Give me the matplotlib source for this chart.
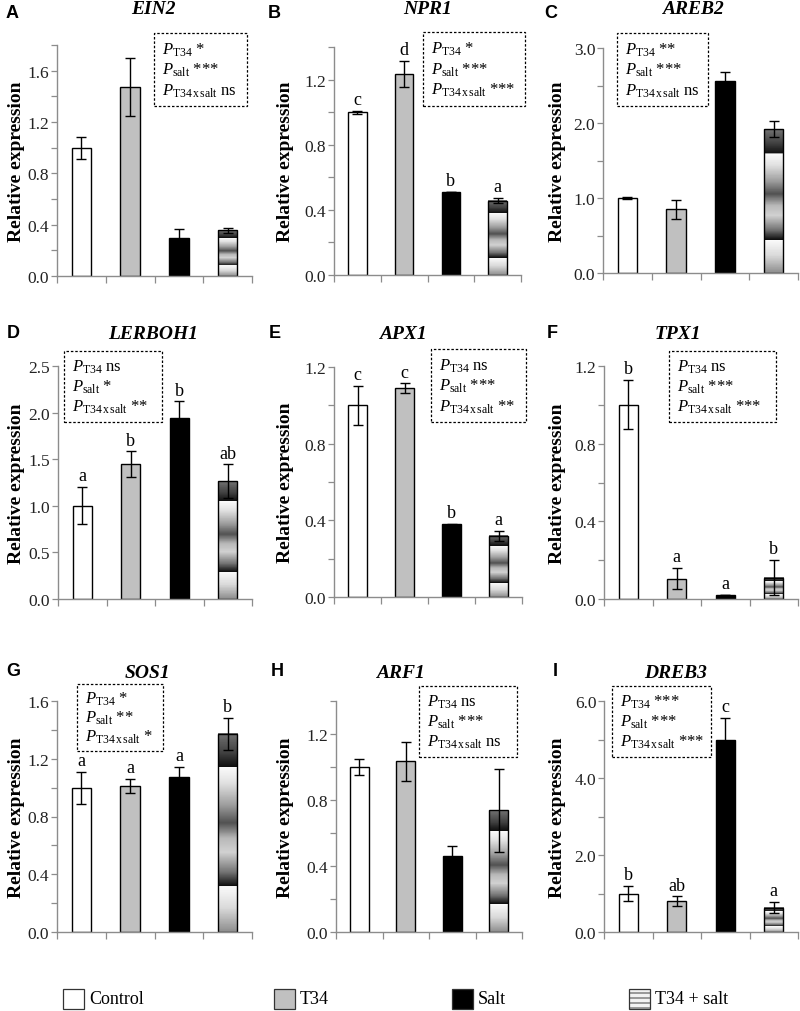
"""Relative expression of nine genes under T34 / salt treatments (3x3 bar panels)."""
import matplotlib
matplotlib.use('Agg')
import matplotlib.pyplot as plt
import numpy as np
from matplotlib.patches import Rectangle
from matplotlib.ticker import MultipleLocator, FormatStrFormatter

plt.rcParams['font.family'] = ['Liberation Serif', 'DejaVu Serif']
plt.rcParams['mathtext.fontset'] = 'custom'
plt.rcParams['mathtext.rm'] = 'Liberation Serif'
plt.rcParams['mathtext.it'] = 'Liberation Serif:italic'
plt.rcParams['mathtext.bf'] = 'Liberation Serif:bold'

W, H = 800, 1012

# ---- data -------------------------------------------------------------
GENES = ['EIN2', 'NPR1', 'AREB2', 'LERBOH1', 'APX1', 'TPX1', 'SOS1', 'ARF1', 'DREB3']
PANELS = ['A', 'B', 'C', 'D', 'E', 'F', 'G', 'H', 'I']
GROUPS = ['Control', 'T34', 'Salt', 'T34 + salt']

CONTROL = [1.00, 1.00, 1.00, 1.00, 1.00, 1.00, 1.00, 1.00, 1.00]
T34 = [1.47, 1.235, 0.85, 1.445, 1.088, 0.105, 1.01, 1.035, 0.80]
SALT = [0.30, 0.51, 2.555, 1.94, 0.379, 0.022, 1.073, 0.463, 5.00]
T34_SALT = [0.355, 0.457, 1.92, 1.265, 0.32, 0.11, 1.373, 0.737, 0.63]

CONTROL_ERR = [0.085, 0.01, 0.01, 0.20, 0.10, 0.127, 0.11, 0.05, 0.19]
T34_ERR = [0.225, 0.08, 0.125, 0.14, 0.026, 0.055, 0.05, 0.117, 0.125]
SALT_ERR = [0.065, 0.0, 0.125, 0.18, 0.004, 0.0, 0.07, 0.057, 0.56]
T34_SALT_ERR = [0.02, 0.017, 0.105, 0.18, 0.026, 0.09, 0.11, 0.252, 0.147]

LETTERS = [
    [],
    ['c', 'd', 'b', 'a'],
    [],
    ['a', 'b', 'b', 'ab'],
    ['c', 'c', 'b', 'a'],
    ['b', 'a', 'a', 'b'],
    ['a', 'a', 'a', 'b'],
    [],
    ['b', 'ab', 'c', 'a'],
]

P_T34 = ['*', '*', '**', 'ns', 'ns', 'ns', '*', 'ns', '***']
P_SALT = ['***', '***', '***', '*', '***', '***', '**', '***', '***']
P_INTER = ['ns', '***', 'ns', '**', '**', '***', '*', 'ns', '***']

# ---- layout (pixels: left, top, right, bottom) -------------------------
AX_PX = [(57, 46, 252, 277), (334, 48, 521, 276), (603, 49, 798, 274),
         (58, 367, 252, 600), (334, 368, 522, 598), (604, 367, 798, 600),
         (57, 702, 252, 933), (336, 702, 522, 933), (604, 702, 798, 933)]
YMAX = [1.8, 1.4, 3.0, 2.5, 1.2, 1.2, 1.6, 1.4, 6.0]
YMAJ = [0.4, 0.4, 1.0, 0.5, 0.4, 0.4, 0.4, 0.4, 2.0]
YMIN = [0.2, 0.2, 0.5, None, 0.2, 0.2, 0.2, 0.2, 1.0]
BOX_PX = [(154, 34, 247, 107), (423, 33, 525, 107), (617, 34, 708, 107),
          (64, 352, 162, 423), (431, 350, 526, 423), (669, 352, 776, 423),
          (77, 685, 163, 752), (419, 687, 517, 758), (612, 687, 711, 758)]
TITLE_X = [153, 428, 693, 153, 403, 678, 147, 400, 676]
ROW_TITLE_Y = [10, 335, 674]
LETTER_X = [12, 274, 551, 13, 275, 552, 13, 277, 555]
ROW_LETTER_Y = [14, 333, 672]
COL_YLABEL_X = [17, 286, 557]

FILLS = ['white', '#c0c0c0', 'black', 'none']
BAR_W = 0.4
AXIS_GREY = '#8c8c8c'

# gradient fill of the T34 + salt bars (fraction of bar height, grey level)
GRAD_STOPS = [(0.0, 0.55), (0.12, 0.85), (0.228, 0.98), (0.232, 0.06), (0.30, 0.45),
              (0.40, 0.82), (0.47, 0.72), (0.55, 0.32), (0.64, 0.62), (0.75, 0.88),
              (0.828, 0.98), (0.832, 0.06), (0.90, 0.25), (1.0, 0.45)]
_gs = np.array(GRAD_STOPS)
GRAD = np.interp(np.linspace(0, 1, 400), _gs[:, 0], _gs[:, 1])


def fx(px):
    return px / W


def fy(py):
    return 1 - py / H


fig = plt.figure(figsize=(W / 100, H / 100), dpi=100)

for i, gene in enumerate(GENES):
    l, t, r, b = AX_PX[i]
    ax = fig.add_axes([fx(l), fy(b), (r - l) / W, (b - t) / H])
    vals = [CONTROL[i], T34[i], SALT[i], T34_SALT[i]]
    errs = [CONTROL_ERR[i], T34_ERR[i], SALT_ERR[i], T34_SALT_ERR[i]]
    x = np.arange(len(GROUPS))

    ax.bar(x, vals, width=BAR_W, color=FILLS, edgecolor='black', linewidth=1.0, zorder=2)
    ax.imshow(GRAD[:, None], extent=(x[3] - BAR_W / 2, x[3] + BAR_W / 2, 0, vals[3]),
              origin='lower', aspect='auto', cmap='gray', vmin=0, vmax=1,
              interpolation='nearest', zorder=1.5)
    ax.errorbar(x, vals, yerr=errs, fmt='none', ecolor='black', elinewidth=1.0,
                capsize=3.5, capthick=1.0, zorder=3)

    for xi, v, e, lab in zip(x, vals, errs, LETTERS[i]):
        ax.annotate(lab, (xi, v + e), xytext=(0, 2), textcoords='offset points',
                    ha='center', va='bottom', fontsize=13)

    ax.set_xlim(-0.5, 3.5)
    ax.set_ylim(0, YMAX[i])
    ax.set_xticks(np.arange(-0.5, 4.0, 1.0))
    ax.set_xticklabels([])
    ax.yaxis.set_major_locator(MultipleLocator(YMAJ[i]))
    if YMIN[i]:
        ax.yaxis.set_minor_locator(MultipleLocator(YMIN[i]))
    ax.yaxis.set_major_formatter(FormatStrFormatter('%.1f'))
    ax.tick_params(axis='x', length=5, width=0.9, color=AXIS_GREY, direction='out')
    ax.tick_params(axis='y', which='both', length=4, width=0.9, color=AXIS_GREY,
                   direction='out', labelsize=12.5, pad=1.5, labelcolor='#222222')
    for side in ('top', 'right'):
        ax.spines[side].set_visible(False)
    for side in ('left', 'bottom'):
        ax.spines[side].set_color(AXIS_GREY)
        ax.spines[side].set_linewidth(1.0)

    row, col = divmod(i, 3)
    fig.text(fx(COL_YLABEL_X[col]), fy((t + b) / 2), 'Relative expression', rotation=90,
             ha='center', va='center', fontsize=14, fontweight='bold')
    fig.text(fx(TITLE_X[i]), fy(ROW_TITLE_Y[row]), gene, ha='center', va='center',
             fontsize=14, fontweight='bold', fontstyle='italic')
    fig.text(fx(LETTER_X[i]), fy(ROW_LETTER_Y[row]), PANELS[i], ha='center', va='center',
             fontsize=13, fontweight='bold', family=['Liberation Sans', 'DejaVu Sans'])

    # two-way ANOVA box
    bl, bt, br, bb = BOX_PX[i]
    fig.add_artist(Rectangle((fx(bl), fy(bb)), (br - bl) / W, (bb - bt) / H,
                             transform=fig.transFigure, fill=False, edgecolor='black',
                             linewidth=0.9, linestyle=(0, (2, 1.5))))
    lines = [r'$P_{\mathrm{T34}}$ ' + P_T34[i],
             r'$P_{\mathrm{salt}}$ ' + P_SALT[i],
             r'$P_{\mathrm{T34\,x\,salt}}$ ' + P_INTER[i]]
    for f, s in zip([0.22, 0.5, 0.78], lines):
        fig.text(fx(bl + 8), fy(bt + f * (bb - bt)), s, ha='left', va='center', fontsize=12)

# ---- legend -----------------------------------------------------------
LEG_BOX_X = [63, 274, 452, 629]
leg_top, leg_bot, leg_w = 990, 1010, 21
for k, name in enumerate(GROUPS):
    lx = LEG_BOX_X[k]
    if FILLS[k] != 'none':
        fig.add_artist(Rectangle((fx(lx), fy(leg_bot)), leg_w / W, (leg_bot - leg_top) / H,
                                 transform=fig.transFigure, facecolor=FILLS[k],
                                 edgecolor='#333333', linewidth=0.9))
    else:
        n = 8
        sh = (leg_bot - leg_top) / n
        for s in range(n):
            fig.add_artist(Rectangle((fx(lx), fy(leg_top + (s + 1) * sh)), leg_w / W, sh / H,
                                     transform=fig.transFigure,
                                     facecolor='#9a9a9a' if s % 2 else '#f2f2f2',
                                     edgecolor='none'))
        fig.add_artist(Rectangle((fx(lx), fy(leg_bot)), leg_w / W, (leg_bot - leg_top) / H,
                                 transform=fig.transFigure, fill=False,
                                 edgecolor='#333333', linewidth=0.9))
    fig.text(fx(lx + leg_w + 5), fy((leg_top + leg_bot) / 2), name, ha='left', va='center',
             fontsize=13)

fig.savefig('out.png', dpi=100)
